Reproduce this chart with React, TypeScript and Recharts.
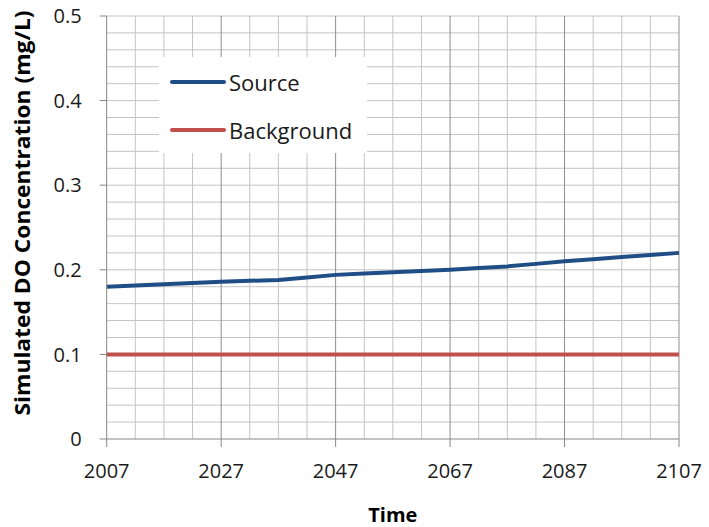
import { LineChart, Line, XAxis, YAxis, ReferenceLine, Legend } from "recharts";

// years sampled along the simulation (every 5 years)
const years = [2007, 2012, 2017, 2022, 2027, 2032, 2037, 2042, 2047, 2052, 2057, 2062, 2067, 2072, 2077, 2082, 2087, 2092, 2097, 2102, 2107];
const sourceDO = [0.18, 0.1815, 0.183, 0.1845, 0.186, 0.187, 0.188, 0.191, 0.194, 0.1955, 0.197, 0.1985, 0.2, 0.202, 0.204, 0.207, 0.21, 0.2125, 0.215, 0.2175, 0.22];
const backgroundDO = [0.1, 0.1, 0.1, 0.1, 0.1, 0.1, 0.1, 0.1, 0.1, 0.1, 0.1, 0.1, 0.1, 0.1, 0.1, 0.1, 0.1, 0.1, 0.1, 0.1, 0.1];

const xTicks = [2007, 2027, 2047, 2067, 2087, 2107];
const yTicks = [0, 0.1, 0.2, 0.3, 0.4, 0.5];
const minorYears = [2012, 2017, 2022, 2032, 2037, 2042, 2052, 2057, 2062, 2072, 2077, 2082, 2092, 2097, 2102];
const majorYears = [2027, 2047, 2067, 2087, 2107];
const gridDO = [0.02, 0.04, 0.06, 0.08, 0.1, 0.12, 0.14, 0.16, 0.18, 0.2, 0.22, 0.24, 0.26, 0.28, 0.3, 0.32, 0.34, 0.36, 0.38, 0.4, 0.42, 0.44, 0.46, 0.48, 0.5];

const series = [
  { key: "source", name: "Source", color: "#1f4e87" },
  { key: "background", name: "Background", color: "#c0504d" },
];

const data = years.map((year, i) => ({
  year,
  source: sourceDO[i],
  background: backgroundDO[i],
}));

const FONT = "'Open Sans', 'Liberation Sans', sans-serif";

const LegendBox = () => (
  <div style={{ background: "#fff", width: 208, height: 96, position: "relative", fontFamily: FONT }}>
    {series.map((s, i) => (
      <div key={s.key} style={{ position: "absolute", left: 11, top: 10 + i * 48, display: "flex", alignItems: "center", height: 30 }}>
        <div style={{ width: 56, height: 4, borderRadius: 2, background: s.color }} />
        <span style={{ marginLeft: 3, fontSize: 22, color: "#1a1a1a", lineHeight: "30px" }}>{s.name}</span>
      </div>
    ))}
  </div>
);

const YTitle = () => {
  const cx = 22;
  const cy = 213;
  return (
    <text
      x={cx}
      y={cy}
      transform={`rotate(-90, ${cx}, ${cy})`}
      textAnchor="middle"
      dominantBaseline="central"
      fontFamily={FONT}
      fontWeight="bold"
      fontSize={21}
      textLength={405}
      lengthAdjust="spacingAndGlyphs"
      fill="#000"
    >
      Simulated DO Concentration (mg/L)
    </text>
  );
};

export default function App() {
  return (
    <div style={{ position: "absolute", left: 0, top: 0, width: 709, height: 527, background: "#fff" }}>
      <LineChart width={709} height={527} data={data} margin={{ top: 16, right: 30, bottom: 0, left: 0 }}>
        <XAxis
          dataKey="year"
          type="number"
          domain={[2007, 2107]}
          ticks={xTicks}
          interval={0}
          height={88}
          tickSize={8}
          tickMargin={17}
          stroke="#868686"
          tick={{ fill: "#1a1a1a", fontSize: 20, fontFamily: FONT }}
          label={{ value: "Time", position: "insideBottom", offset: 5, fill: "#000", fontSize: 20, fontWeight: "bold", fontFamily: FONT }}
        />
        <YAxis
          type="number"
          domain={[0, 0.5]}
          ticks={yTicks}
          interval={0}
          width={106.7}
          tickSize={7}
          tickMargin={18}
          stroke="#868686"
          tick={{ fill: "#1a1a1a", fontSize: 20, fontFamily: FONT }}
          label={<YTitle />}
        />
        {gridDO.map((v) => (
          <ReferenceLine key={`h${v}`} y={v} stroke="#c4c4c4" strokeWidth={1} />
        ))}
        {minorYears.map((v) => (
          <ReferenceLine key={`m${v}`} x={v} stroke="#c4c4c4" strokeWidth={1} />
        ))}
        {majorYears.map((v) => (
          <ReferenceLine key={`M${v}`} x={v} stroke="#8e8e8e" strokeWidth={1} />
        ))}
        <Legend
          content={<LegendBox />}
          layout="horizontal"
          verticalAlign="middle"
          align="center"
          wrapperStyle={{ left: 159, top: 57, width: 208, height: 96 }}
        />
        {series.map((s) => (
          <Line
            key={s.key}
            dataKey={s.key}
            name={s.name}
            type="linear"
            stroke={s.color}
            strokeWidth={4}
            dot={false}
            activeDot={false}
            isAnimationActive={false}
          />
        ))}
      </LineChart>
    </div>
  );
}
